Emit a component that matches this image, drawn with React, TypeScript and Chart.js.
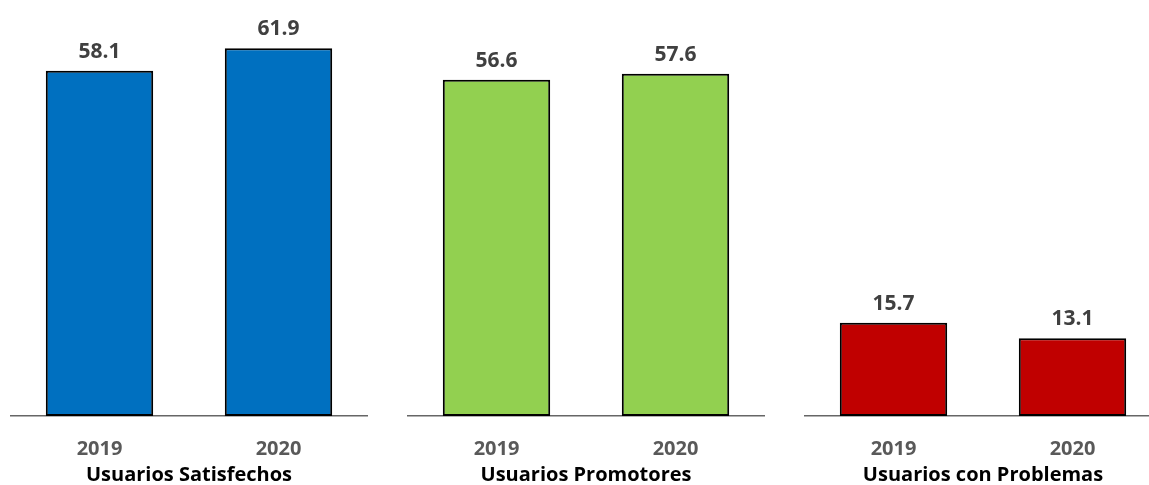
import React, { useEffect, useRef } from "react";
import { Chart, registerables } from "chart.js";

Chart.register(...registerables);

const years = ["2019", "2020"];
const groupTitles = ["Usuarios Satisfechos", "Usuarios Promotores", "Usuarios con Problemas"];
const satisfechos = [58.1, 61.9];
const promotores = [56.6, 57.6];
const problemas = [15.7, 13.1];
const groupColors = ["#0070C0", "#92D050", "#C00000"];
const groupLefts = [10, 407, 804];

const FONT = "'Open Sans', 'Liberation Sans', sans-serif";

const valueLabels = {
  id: "valueLabels",
  afterDatasetsDraw(chart: any) {
    const ctx = chart.ctx;
    ctx.save();
    ctx.font = `bold 21px ${FONT}`;
    ctx.fillStyle = "#404040";
    ctx.textAlign = "center";
    ctx.textBaseline = "middle";
    chart.data.datasets.forEach((ds: any, di: number) => {
      chart.getDatasetMeta(di).data.forEach((bar: any, i: number) => {
        ctx.fillText(ds.data[i].toFixed(1), bar.x, bar.y - 19);
      });
    });
    ctx.restore();
  },
};

function GroupChart({ values, color, title, left }: { values: number[]; color: string; title: string; left: number }) {
  const ref = useRef<HTMLCanvasElement>(null);
  useEffect(() => {
    const chart = new Chart(ref.current!, {
      type: "bar",
      data: {
        labels: years,
        datasets: [
          {
            data: values,
            backgroundColor: color,
            borderColor: "#000000",
            borderWidth: 2,
            borderSkipped: false,
            categoryPercentage: 1,
            barPercentage: 0.6,
          },
        ],
      },
      options: {
        responsive: false,
        animation: false,
        layout: { padding: 0 },
        plugins: { legend: { display: false }, tooltip: { enabled: false } },
        scales: {
          y: { display: false, min: 0, max: 70 },
          x: {
            offset: true,
            grid: { display: false, drawTicks: false },
            border: { display: true, color: "#666666", width: 1.5 },
            ticks: { color: "#595959", font: { family: FONT, size: 20, weight: "bold" }, padding: 21 },
            title: {
              display: true,
              text: title,
              color: "#000000",
              font: { family: FONT, size: 20, weight: "bold", lineHeight: 1 },
              padding: { top: 0, bottom: 0 },
            },
            afterFit: (scale: any) => {
              scale.height = 69;
            },
          },
        },
      },
      plugins: [valueLabels],
    });
    return () => chart.destroy();
  }, []);
  return (
    <canvas
      ref={ref}
      width={358}
      height={485}
      style={{ position: "absolute", left, top: 0, width: 358, height: 485 }}
    />
  );
}

export default function App() {
  const series = [satisfechos, promotores, problemas];
  return (
    <div style={{ position: "absolute", left: 0, top: 0, width: 1149, height: 485, overflow: "hidden", background: "#fff" }}>
      {series.map((vals, i) => (
        <GroupChart key={i} values={vals} color={groupColors[i]} title={groupTitles[i]} left={groupLefts[i]} />
      ))}
    </div>
  );
}
